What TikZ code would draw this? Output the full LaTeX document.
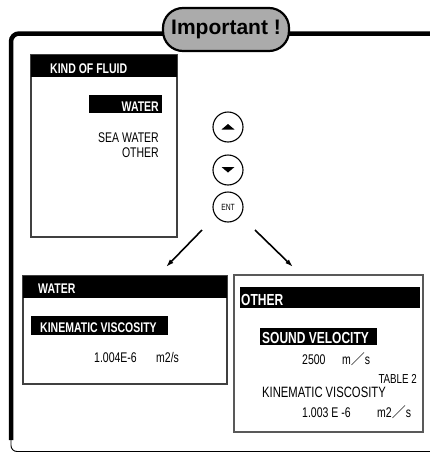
\documentclass[tikz,border=0pt]{standalone}
\usepackage{fontspec}
\usepackage{tikz}
\usetikzlibrary{arrows.meta}
\newfontfamily\panelfont[FakeStretch=0.75]{Liberation Sans}
\newfontfamily\badgefont{Liberation Sans}
\newfontfamily\cjkfont{Noto Sans CJK JP}
\newcommand{\fsl}{{\cjkfont ／}}

\tikzset{
  screen/.style={draw=black!75, line width=1.2pt},
  lcd/.style={inner sep=0pt, anchor=base west, font=\panelfont\fontsize{#1}{#1}\selectfont},
  lcd/.default=14,
  lcdb/.style={inner sep=0pt, anchor=base west, text=white, font=\panelfont\bfseries\fontsize{#1}{#1}\selectfont},
  lcdb/.default=14,
  key/.style={draw, circle, line width=1.1pt, minimum size=30pt, inner sep=0pt},
  pick/.style={-{Latex[length=8pt,width=5pt]}, line width=1.6pt},
}

\begin{document}
\begin{tikzpicture}[x=1pt,y=-1pt]
        \useasboundingbox (0,0) rectangle (430,453);
        \clip (0,0) rectangle (430,453);

        % frame
            \draw[line width=0.9pt, rounded corners=6pt] (11,430) -- (11,451.5) -- (440,451.5);
            \draw[line width=4.5pt, rounded corners=8pt] (11,440) -- (11,33.5) -- (440,33.5);
            \node[draw, line width=2.2pt, fill=black!33, rounded corners=20pt, minimum width=126pt, minimum height=43pt, font=\badgefont\bfseries\fontsize{21}{21}\selectfont] (badge) at (226,29.5) {Important !};

        % kind of fluid
            \draw[screen] (31,55) rectangle (177,237);
            \fill (31,55) rectangle (177,77);
            \node[lcdb] (kind) at (50,73) {KIND OF FLUID};
            \fill (89,95) rectangle (162,113);
            \node[lcdb, anchor=base east] (water) at (159,111) {WATER};
            \node[lcd, anchor=base east] (sea) at (159,142) {SEA WATER};
            \node[lcd, anchor=base east] (other) at (159,157) {OTHER};

        % keys
            \node[key] (up) at (228,127) {};
            \fill (221.5,129.5) -- (234.5,129.5) -- (228,124) -- cycle;
            \node[key] (down) at (228,170) {};
            \fill (221.5,167) -- (234.5,167) -- (228,172.5) -- cycle;
            \node[key, font=\panelfont\fontsize{9}{9}\selectfont] (ent) at (228,207) {ENT};

        % arrows
            \coordinate (l-from) at (202,230);
            \coordinate (l-to) at (166,267);
            \coordinate (r-from) at (255,230);
            \coordinate (r-to) at (293,267);
            \draw[pick] (l-from) -- (l-to);
            \draw[pick] (r-from) -- (r-to);

        % water screen
            \draw[screen] (23,276) rectangle (227,384);
            \fill (23,276) rectangle (227,298);
            \node[lcdb] (w-head) at (38,293) {WATER};
            \fill (31,316) rectangle (168,335);
            \node[lcdb] (w-kv) at (40,332) {KINEMATIC VISCOSITY};
            \node[lcd] (w-val) at (94,362) {1.004E-6};
            \node[lcd] (w-unit) at (156,362) {m2/s};

        % other screen
            \draw[screen, draw=black!65] (234,275) rectangle (423,432);
            \fill (240,287) rectangle (420,308);
            \node[lcdb=16] (o-head) at (241,305) {OTHER};
            \fill (260,328) rectangle (377,345);
            \node[lcdb=16] (o-sv) at (262,343) {SOUND VELOCITY};
            \node[lcd] (o-sv-val) at (302,364) {2500};
            \node[lcd] (o-sv-unit) at (342,364) {m\fsl s};
            \node[lcd=13, anchor=base east] (o-table) at (417,383) {TABLE 2};
            \node[lcd=15] (o-kv) at (262,397) {KINEMATIC VISCOSITY};
            \node[lcd] (o-kv-val) at (302,417) {1.003 E -6};
            \node[lcd] (o-kv-unit) at (377,417) {m2\fsl s};
        \end{tikzpicture}
\end{document}
